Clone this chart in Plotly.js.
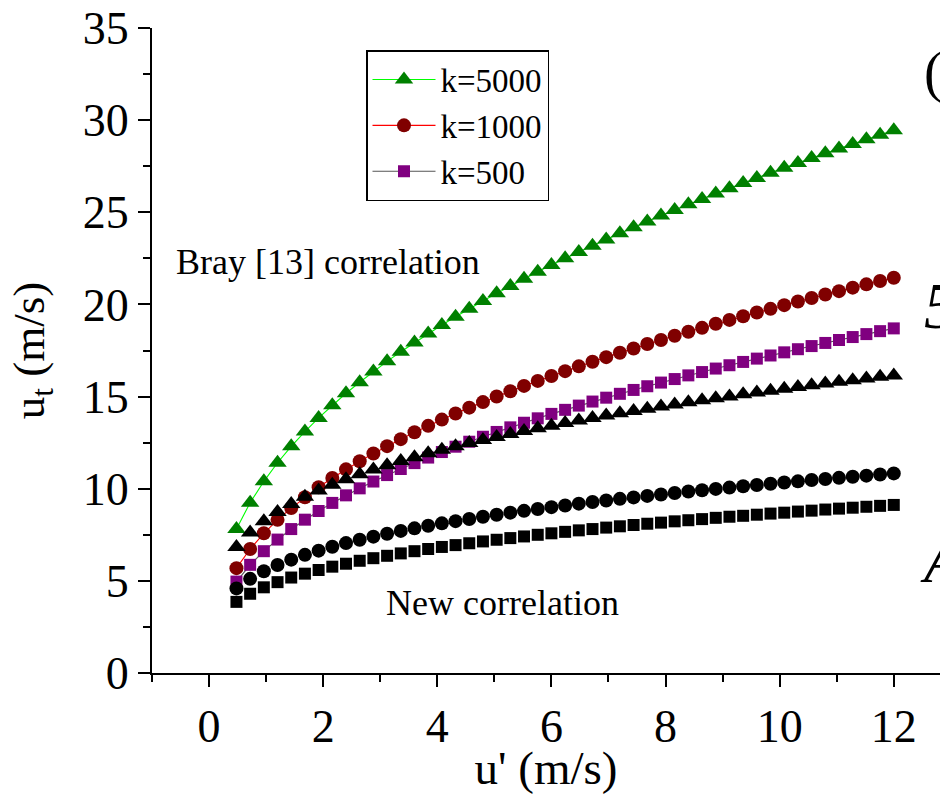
<!DOCTYPE html>
<html>
<head>
<meta charset="utf-8">
<script src="https://cdn.plot.ly/plotly-3.0.1.min.js"></script>
<style>
html, body { margin: 0; padding: 0; background: #fff; overflow: hidden; width: 940px; height: 794px; }
#chart { width: 940px; height: 794px; }
</style>
</head>
<body>
<div id="chart"></div>
<script>
// u' (m/s)
const uPrime = [0.48, 0.72, 0.96, 1.2, 1.44, 1.68, 1.92, 2.16, 2.4, 2.64, 2.88, 3.12, 3.36, 3.6, 3.84,
  4.08, 4.32, 4.56, 4.8, 5.04, 5.28, 5.52, 5.76, 6.0, 6.24, 6.48, 6.72, 6.96, 7.2, 7.44, 7.68, 7.92,
  8.16, 8.4, 8.64, 8.88, 9.12, 9.36, 9.6, 9.84, 10.08, 10.32, 10.56, 10.8, 11.04, 11.28, 11.52, 11.76, 12.0];

// Bray [13] correlation, k=5000 (green triangles)
const brayK5000 = [7.82, 9.24, 10.40, 11.41, 12.30, 13.10, 13.84, 14.53, 15.18, 15.78, 16.36, 16.91, 17.43, 17.93, 18.42,
  18.88, 19.33, 19.77, 20.19, 20.60, 21.00, 21.39, 21.77, 22.14, 22.50, 22.85, 23.19, 23.53, 23.86, 24.19, 24.50, 24.82,
  25.12, 25.43, 25.72, 26.02, 26.30, 26.59, 26.86, 27.14, 27.41, 27.68, 27.94, 28.20, 28.46, 28.71, 28.96, 29.21, 29.45];

// Bray [13] correlation, k=1000 (dark red circles)
const brayK1000 = [5.69, 6.73, 7.58, 8.31, 8.95, 9.54, 10.08, 10.58, 11.05, 11.49, 11.91, 12.31, 12.69, 13.06, 13.41,
  13.75, 14.08, 14.40, 14.70, 15.00, 15.29, 15.58, 15.85, 16.12, 16.38, 16.64, 16.89, 17.14, 17.38, 17.61, 17.85, 18.07,
  18.30, 18.52, 18.73, 18.95, 19.16, 19.36, 19.56, 19.76, 19.96, 20.16, 20.35, 20.54, 20.72, 20.91, 21.09, 21.27, 21.45];

// Bray [13] correlation, k=500 (purple squares)
const brayK500 = [4.96, 5.87, 6.61, 7.24, 7.81, 8.32, 8.79, 9.23, 9.64, 10.02, 10.39, 10.74, 11.07, 11.39, 11.69,
  11.99, 12.28, 12.55, 12.82, 13.08, 13.33, 13.58, 13.82, 14.06, 14.28, 14.51, 14.73, 14.94, 15.15, 15.36, 15.56, 15.76,
  15.95, 16.15, 16.33, 16.52, 16.70, 16.88, 17.06, 17.23, 17.40, 17.57, 17.74, 17.91, 18.07, 18.23, 18.39, 18.55, 18.70];

// New correlation, k=5000 (black triangles)
const newK5000 = [6.84, 7.62, 8.23, 8.74, 9.17, 9.56, 9.90, 10.22, 10.51, 10.78, 11.04, 11.27, 11.50, 11.71, 11.92,
  12.11, 12.30, 12.48, 12.65, 12.81, 12.97, 13.13, 13.28, 13.42, 13.57, 13.70, 13.84, 13.97, 14.09, 14.22, 14.34, 14.46,
  14.57, 14.69, 14.80, 14.91, 15.01, 15.12, 15.22, 15.32, 15.42, 15.52, 15.61, 15.71, 15.80, 15.89, 15.98, 16.07, 16.15];

// New correlation, k=1000 (black circles)
const newK1000 = [4.59, 5.11, 5.52, 5.86, 6.15, 6.41, 6.64, 6.85, 7.05, 7.23, 7.40, 7.56, 7.71, 7.85, 7.99,
  8.12, 8.24, 8.36, 8.48, 8.59, 8.70, 8.80, 8.90, 9.00, 9.09, 9.19, 9.28, 9.36, 9.45, 9.53, 9.61, 9.69,
  9.77, 9.85, 9.92, 9.99, 10.06, 10.13, 10.20, 10.27, 10.34, 10.40, 10.47, 10.53, 10.59, 10.65, 10.71, 10.77, 10.83];

// New correlation, k=500 (black squares)
const newK500 = [3.86, 4.30, 4.65, 4.93, 5.18, 5.39, 5.59, 5.77, 5.93, 6.09, 6.23, 6.36, 6.49, 6.61, 6.73,
  6.84, 6.94, 7.04, 7.14, 7.23, 7.32, 7.41, 7.50, 7.58, 7.66, 7.74, 7.81, 7.89, 7.96, 8.03, 8.10, 8.16,
  8.23, 8.29, 8.35, 8.42, 8.48, 8.53, 8.59, 8.65, 8.70, 8.76, 8.81, 8.87, 8.92, 8.97, 9.02, 9.07, 9.12];

const legendNames = ["k=5000", "k=1000", "k=500"];
const xTickVals = [0, 2, 4, 6, 8, 10, 12];
const yTickVals = [0, 5, 10, 15, 20, 25, 30, 35];

const serif = '"Liberation Serif", "Times New Roman", serif';

function trace(y, name, symbol, mcolor, lcolor, size, show, withLine) {
  return {
    x: uPrime, y: y, name: name, type: 'scatter', mode: withLine ? 'lines+markers' : 'markers',
    showlegend: show,
    line: { color: lcolor, width: 1.1 },
    marker: { symbol: symbol, color: mcolor, size: size, line: { width: 0 } },
    cliponaxis: false
  };
}

const data = [
  trace(brayK5000, legendNames[0], 'triangle-up', '#008000', '#00ff00', 16, true, true),
  trace(brayK1000, legendNames[1], 'circle', '#800000', '#ff0000', 14, true, true),
  trace(brayK500, legendNames[2], 'square', '#800080', '#555555', 12, true, true),
  trace(newK5000, 'new k=5000', 'triangle-up', '#000000', '#000000', 16, false, false),
  trace(newK1000, 'new k=1000', 'circle', '#000000', '#000000', 14, false, false),
  trace(newK500, 'new k=500', 'square', '#000000', '#000000', 12, false, false)
];

const layout = {
  width: 940, height: 794,
  margin: { l: 152, r: 0, t: 28, b: 121 },
  paper_bgcolor: '#ffffff', plot_bgcolor: '#ffffff',
  font: { family: serif, color: '#000000' },
  showlegend: true,
  legend: {
    x: (366 - 152) / 788, y: (673 - 50) / 645, xanchor: 'left', yanchor: 'top',
    bgcolor: '#ffffff', bordercolor: '#000000', borderwidth: 1.5,
    font: { family: serif, size: 33, color: '#000000' },
    traceorder: 'normal', itemwidth: 63
  },
  xaxis: {
    range: [-1, 12.81], showgrid: false, zeroline: false,
    showline: true, linecolor: '#000000', linewidth: 2,
    ticks: 'outside', ticklen: 12, tickwidth: 2, tickcolor: '#000000',
    tickvals: xTickVals, ticktext: xTickVals.map(String),
    tickfont: { family: serif, size: 46, color: '#000000' },
    minor: { dtick: 1, tick0: 0, ticks: 'outside', ticklen: 7, tickwidth: 2, tickcolor: '#000000', showgrid: false },
    title: { text: "u' (m/s)", font: { family: serif, size: 47, color: '#000000' }, standoff: 8 }
  },
  yaxis: {
    range: [0, 35], showgrid: false, zeroline: false,
    showline: true, linecolor: '#000000', linewidth: 2,
    ticks: 'outside', ticklen: 12, tickwidth: 2, tickcolor: '#000000',
    tickvals: yTickVals, ticktext: yTickVals.map(String),
    tickfont: { family: serif, size: 46, color: '#000000' },
    minor: { dtick: 2.5, tick0: 0, ticks: 'outside', ticklen: 7, tickwidth: 2, tickcolor: '#000000', showgrid: false },
    title: { text: 'u<sub>t</sub> (m/s)', font: { family: serif, size: 45, color: '#000000' }, standoff: 24 }
  },
  annotations: [
    { text: 'Bray [13] correlation', xref: 'paper', yref: 'paper', x: (174 - 152) / 788, y: (673 - 262) / 645,
      xanchor: 'left', yanchor: 'middle', showarrow: false, font: { family: serif, size: 36, color: '#000000' } },
    { text: 'New correlation', xref: 'paper', yref: 'paper', x: (384 - 152) / 788, y: (673 - 603) / 645,
      xanchor: 'left', yanchor: 'middle', showarrow: false, font: { family: serif, size: 36, color: '#000000' } },
    { text: '(a)', xref: 'paper', yref: 'paper', x: (922 - 152) / 788, y: (673 - 72) / 645,
      xanchor: 'left', yanchor: 'middle', showarrow: false, font: { family: serif, size: 56, color: '#000000' } },
    { text: '<i>5</i>', xref: 'paper', yref: 'paper', x: (922 - 152) / 788, y: (673 - 305) / 645,
      xanchor: 'left', yanchor: 'middle', showarrow: false, font: { family: serif, size: 66, color: '#000000' } },
    { text: '<i>A</i>', xref: 'paper', yref: 'paper', x: (918 - 152) / 788, y: (673 - 560) / 645,
      xanchor: 'left', yanchor: 'middle', showarrow: false, font: { family: serif, size: 64, color: '#000000' } }
  ]
};

Plotly.newPlot('chart', data, layout, { staticPlot: true, displayModeBar: false });
</script>
</body>
</html>
